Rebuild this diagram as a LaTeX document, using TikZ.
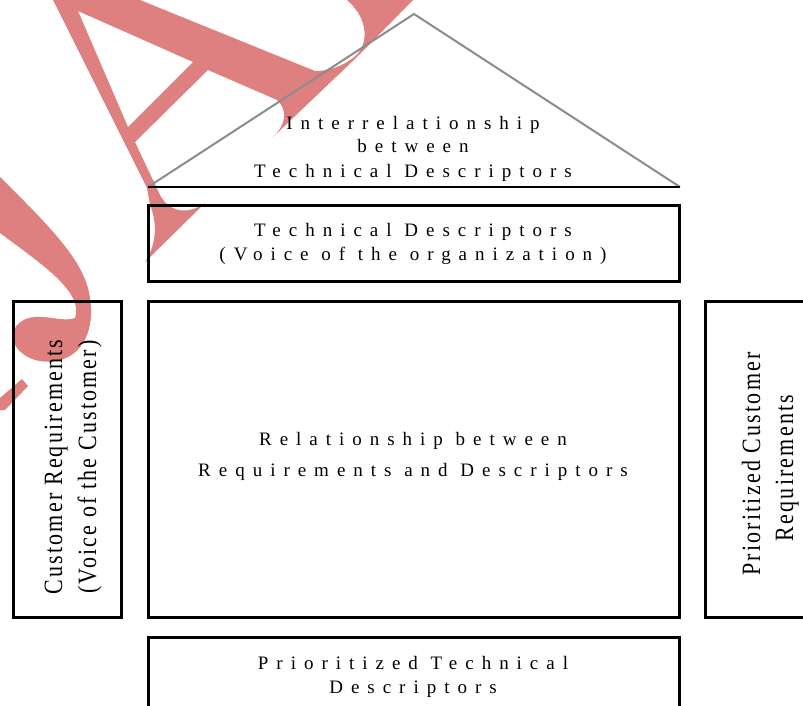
\documentclass[tikz,border=0pt]{standalone}
\usepackage{fontspec}
\setmainfont{Liberation Serif}
\newfontfamily\labelfont[LetterSpace=42]{Liberation Serif}
\newfontfamily\sidefont[LetterSpace=10]{Liberation Serif}
\definecolor{markred}{RGB}{222,128,128}
\definecolor{edgegray}{RGB}{140,140,140}

\tikzset{
  panel/.style={draw=black, line width=3bp, rectangle, inner sep=0pt,
    outer sep=0pt, anchor=north west},
  label/.style={inner sep=0pt, anchor=base,
    font=\labelfont\fontsize{19bp}{22bp}\selectfont},
  sidelabel/.style={inner sep=0pt, anchor=base, rotate=90, yscale=1.2,
    font=\sidefont\fontsize{22bp}{26bp}\selectfont},
  roofline/.style={draw=edgegray, line width=2bp, line join=miter},
  floorline/.style={draw=black, line width=2.5bp},
  stamp/.style={fill=markred, draw=none},
}

\begin{document}
\begin{tikzpicture}[x=1bp, y=-1bp]
  \useasboundingbox (0,0) rectangle (803,706);
  \clip (0,0) rectangle (803,706);
  \fill[white] (0,0) rectangle (803,706);

  % stamp letters lying behind the chart
  \path[stamp, even odd rule]
    (53,0) -- (147,188) -- (150,205)
    .. controls (158,225) and (156,245) .. (145,262)
    -- (205,203)
    .. controls (190,214) and (170,214) .. (160,195)
    -- (135,142) -- (208,70) -- (277,100)
    .. controls (288,110) and (286,125) .. (273,137)
    -- (357,57) -- (413,0) -- (347,0)
    .. controls (372,22) and (368,50) .. (350,60)
    .. controls (340,67) and (328,71) .. (315,71)
    -- (140,0) -- cycle
    (78,11) -- (193,62) -- (128,127) -- cycle;
  \path[stamp]
    (0,177) .. controls (35,212) and (75,250) .. (86,282)
    .. controls (96,310) and (92,345) .. (68,357)
    .. controls (50,366) and (25,362) .. (15,345)
    .. controls (8,332) and (18,318) .. (35,317)
    .. controls (50,316) and (65,322) .. (75,318)
    .. controls (80,305) and (70,290) .. (55,276)
    .. controls (40,262) and (20,248) .. (0,233) -- cycle;
  \path[stamp] (22,379) -- (28,386) -- (5,410) -- (0,410) -- (0,398) -- cycle;

  % roof
  \coordinate (apex) at (414,14);
  \coordinate (eaveL) at (148,187);
  \coordinate (eaveR) at (680,187);
  \draw[roofline] (eaveL) -- (apex) -- (eaveR);
  \draw[floorline] (eaveL) -- (eaveR);
  \node[label] (roof1) at (413,130) {Interrelationship};
  \node[label] (roof2) at (413,153) {between};
  \node[label] (roof3) at (413,177) {Technical Descriptors};

  % technical descriptors
  \node[panel, minimum width=531bp, minimum height=76bp] (tech) at (148,205) {};
  \node[label] (tech1) at (413,236) {Technical Descriptors};
  \node[label] (tech2) at (413,260) {(Voice of the organization)};

  % customer requirements
  \node[panel, minimum width=108bp, minimum height=316bp] (cust) at (13,301) {};
  \node[sidelabel] (cust1) at (62,467) {Customer Requirements};
  \node[sidelabel] (cust2) at (96,467) {(Voice of the Customer)};

  % relationship matrix
  \node[panel, minimum width=531bp, minimum height=316bp] (matrix) at (148,301) {};
  \node[label] (matrix1) at (413,445) {Relationship between};
  \node[label] (matrix2) at (413,476) {Requirements and Descriptors};

  % prioritized customer requirements
  \node[panel, minimum width=125bp, minimum height=316bp] (prio) at (705,301) {};
  \node[sidelabel] (prio1) at (760,464) {Prioritized Customer};
  \node[sidelabel] (prio2) at (793,468) {Requirements};

  % prioritized technical descriptors
  \node[panel, minimum width=531bp, minimum height=100bp] (ptech) at (148,637) {};
  \node[label] (ptech1) at (413,669) {Prioritized Technical};
  \node[label] (ptech2) at (413,693) {Descriptors};
\end{tikzpicture}
\end{document}
